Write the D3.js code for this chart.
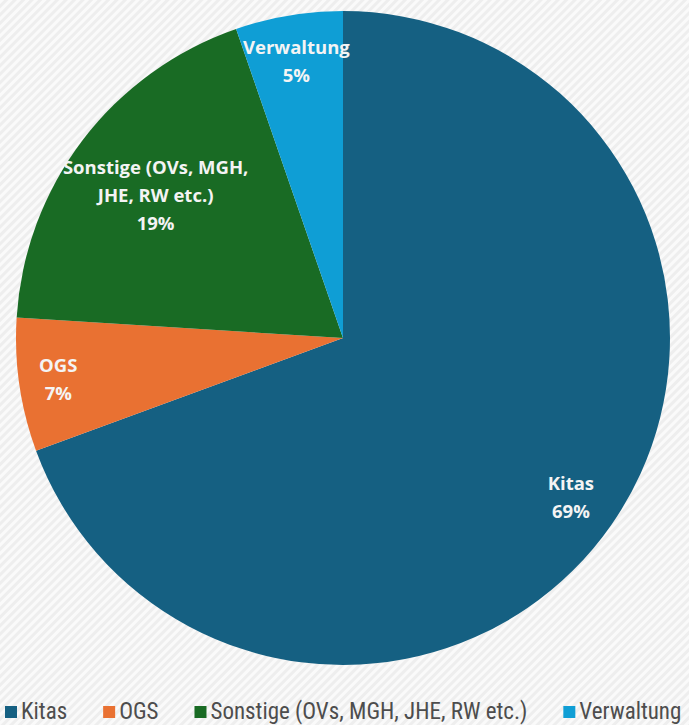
<!DOCTYPE html>
<html>
<head>
<meta charset="utf-8">
<script src="https://cdn.jsdelivr.net/npm/d3@7"></script>
<style>
  body { margin: 0; background: #f1f1f1; overflow: hidden; }
  svg { display: block; }
</style>
</head>
<body>
<svg id="chart"></svg>
<script>
// data
const categories = ["Kitas", "OGS", "Sonstige (OVs, MGH, JHE, RW etc.)", "Verwaltung"];
const values = [69.4, 6.6, 18.7, 5.3];
const sliceLabels = [["Kitas"], ["OGS"], ["Sonstige (OVs, MGH,", "JHE, RW etc.)"], ["Verwaltung"]];
const colors = ["#156082", "#e97132", "#196b24", "#0f9ed5"];

const width = 689, height = 725;
const cx = 343, cy = 338, radius = 327;

const svg = d3.select("#chart")
    .attr("width", width)
    .attr("height", height);

// striped background
const defs = svg.append("defs");
const pat = defs.append("pattern")
    .attr("id", "stripes")
    .attr("width", 6).attr("height", 6)
    .attr("patternUnits", "userSpaceOnUse")
    .attr("patternTransform", "rotate(45)");
pat.append("rect").attr("width", 6).attr("height", 6).attr("fill", "#eeeeee");
pat.append("rect").attr("width", 3).attr("height", 6).attr("fill", "#fafafa");

svg.append("rect")
    .attr("width", width).attr("height", height)
    .attr("fill", "url(#stripes)");

const data = categories.map((c, i) => ({ name: c, value: values[i], lines: sliceLabels[i], color: colors[i] }));
const total = d3.sum(values);

const pie = d3.pie().value(d => d.value).sort(null);
const arc = d3.arc().innerRadius(0).outerRadius(radius);

const g = svg.append("g").attr("transform", `translate(${cx},${cy})`);

const arcs = pie(data);

g.selectAll(".slice")
  .data(arcs)
  .join("path")
    .attr("class", "slice")
    .attr("d", arc)
    .attr("fill", d => d.data.color);

// label distance from centre, as fraction of radius
const labelR = [0.85, 0.88, 0.72, 0.86];
const lineH = 28;

g.selectAll(".lbl")
  .data(arcs)
  .join("text")
    .attr("class", "lbl")
    .attr("text-anchor", "middle")
    .attr("font-family", "'Open Sans', sans-serif")
    .attr("font-weight", "bold")
    .attr("font-size", 18.5)
    .attr("fill", "#f4f4f4")
    .each(function(d, i) {
      const a = (d.startAngle + d.endAngle) / 2;
      const r = radius * labelR[i];
      const x = r * Math.sin(a), y = -r * Math.cos(a);
      const lines = d.data.lines.concat([Math.round(d.data.value / total * 100) + "%"]);
      const y0 = y - (lines.length - 1) * lineH / 2 + 7;
      d3.select(this).selectAll("tspan")
        .data(lines)
        .join("tspan")
          .attr("x", x)
          .attr("y", (t, j) => y0 + j * lineH)
          .text(t => t);
    });

// legend
const legend = svg.append("g").attr("transform", `translate(0,${712})`);
const items = legend.selectAll(".item")
  .data(data)
  .join("g")
    .attr("class", "item");

items.append("rect")
    .attr("width", 12).attr("height", 12)
    .attr("y", -6)
    .attr("fill", d => d.color);

items.append("text")
    .attr("x", 16)
    .attr("y", 1)
    .attr("dominant-baseline", "middle")
    .attr("font-family", "'Liberation Sans Narrow', 'Roboto Condensed', Roboto, sans-serif")
    .attr("font-size", 23)
    .attr("fill", "#4d4d4d")
    .text(d => d.name);

// lay out items left to right with a fixed gap (last one runs off the edge, as in the reference)
const widths = [];
items.each(function() { widths.push(this.getBBox().width); });
const gap = 36;
let xpos = 5;
items.attr("transform", (d, i) => {
  const t = `translate(${xpos},0)`;
  xpos += widths[i] + gap;
  return t;
});
</script>
</body>
</html>
